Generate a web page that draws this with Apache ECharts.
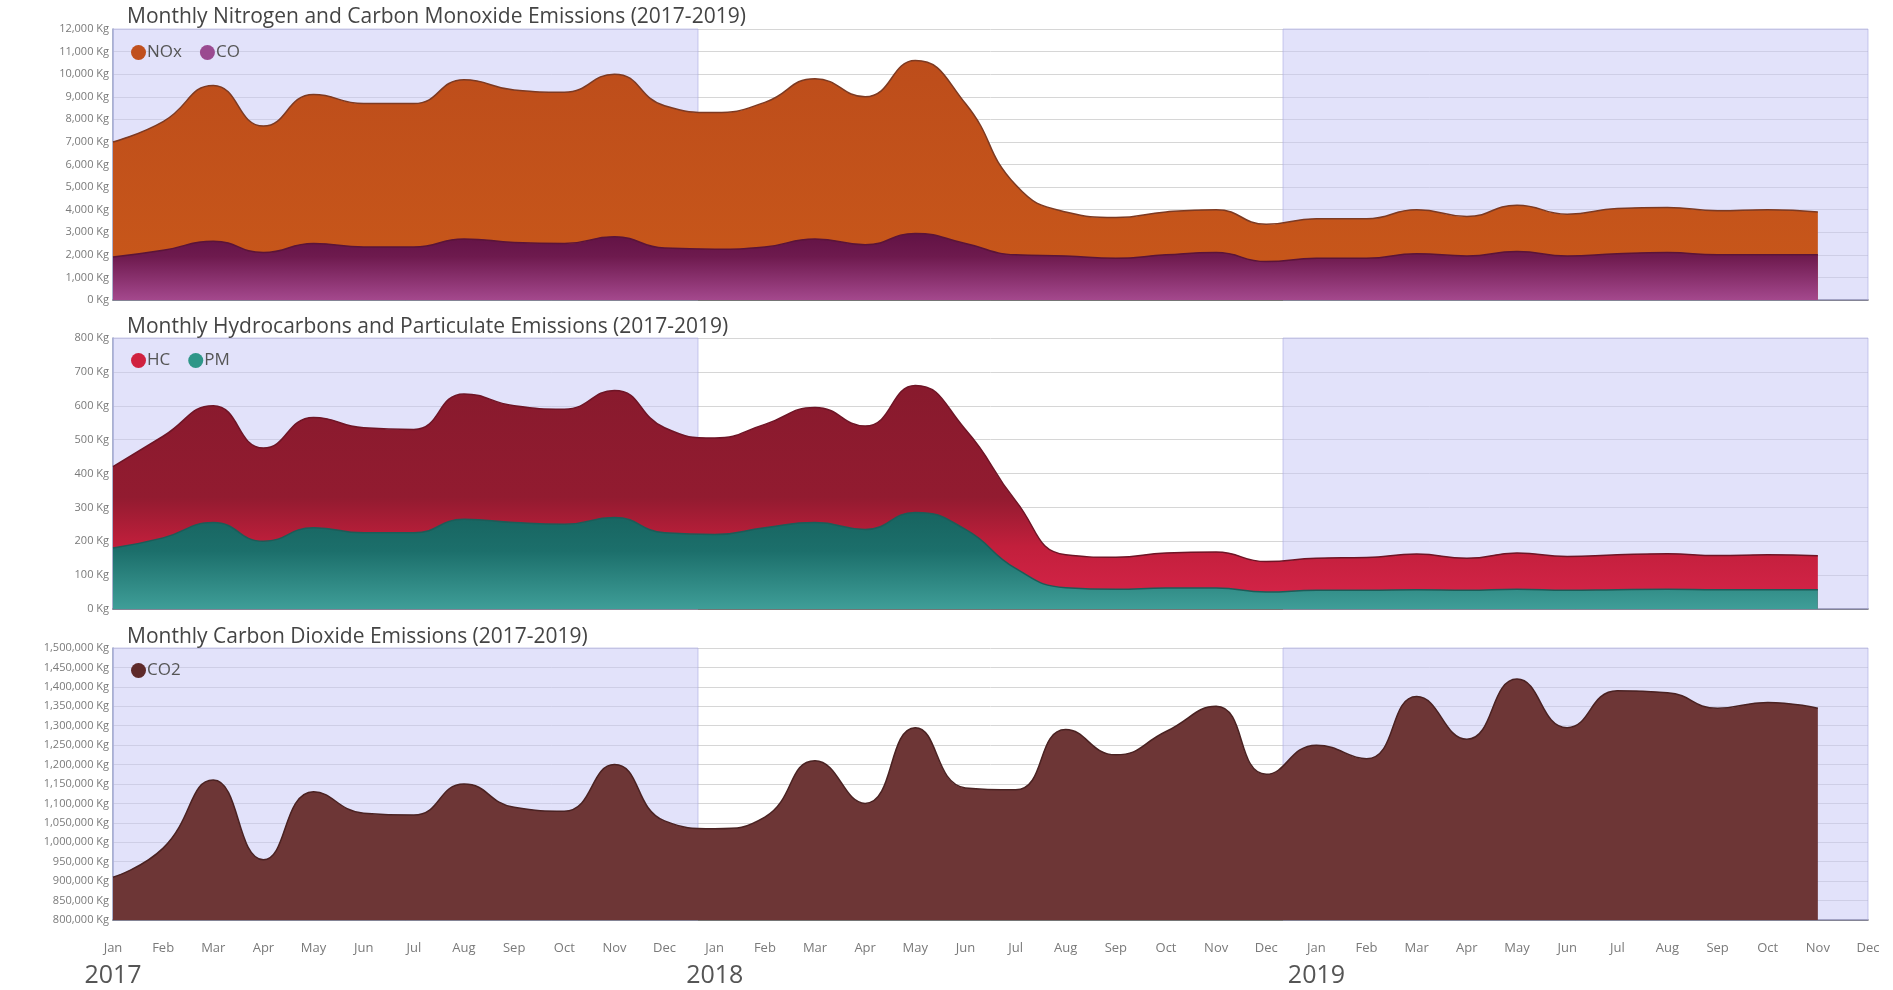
<!DOCTYPE html>
<html>
<head>
<meta charset="utf-8">
<script src="https://cdn.jsdelivr.net/npm/echarts@6/dist/echarts.min.js"></script>
<style>
html,body{margin:0;padding:0;background:#fff;}
#chart{width:1893px;height:990px;}
</style>
</head>
<body>
<div id="chart"></div>
<script>
// ---- data ----
var monthNames = ['Jan','Feb','Mar','Apr','May','Jun','Jul','Aug','Sep','Oct','Nov','Dec'];
var years = [2017, 2018, 2019];
var bandRanges = [[2017, 2018], [2019, 2020]];

var noxValues = [7000, 7900, 9500, 7700, 9100, 8700, 8700, 9750, 9300, 9200, 10000, 8600,
                 8300, 8750, 9800, 9000, 10600, 8700, 5100, 3900, 3650, 3900, 4000, 3350,
                 3600, 3600, 4000, 3700, 4200, 3800, 4050, 4100, 3950, 4000, 3900];
var coValues  = [1900, 2200, 2600, 2100, 2500, 2350, 2350, 2700, 2550, 2500, 2800, 2300,
                 2250, 2350, 2700, 2450, 2950, 2500, 2000, 1950, 1850, 2000, 2100, 1700,
                 1850, 1850, 2050, 1950, 2150, 1950, 2050, 2100, 2000, 2000, 2000];
var hcValues  = [420, 510, 600, 475, 565, 535, 530, 635, 600, 590, 645, 535,
                 505, 545, 595, 540, 660, 530, 320, 160, 153, 165, 168, 140,
                 150, 152, 162, 150, 165, 155, 160, 163, 158, 160, 157];
var pmValues  = [180, 210, 255, 200, 240, 225, 225, 265, 255, 250, 270, 225,
                 220, 240, 255, 235, 285, 235, 120, 63, 58, 62, 62, 50,
                 55, 55, 57, 55, 58, 55, 57, 58, 57, 57, 57];
var co2Values = [910000, 985000, 1160000, 955000, 1130000, 1075000, 1070000, 1150000, 1090000, 1080000, 1200000, 1055000,
                 1035000, 1065000, 1210000, 1100000, 1295000, 1140000, 1135000, 1290000, 1225000, 1285000, 1350000, 1175000,
                 1250000, 1215000, 1375000, 1265000, 1420000, 1295000, 1390000, 1385000, 1345000, 1360000, 1345000];

var titles = ['Monthly Nitrogen and Carbon Monoxide Emissions (2017-2019)',
              'Monthly Hydrocarbons and Particulate Emissions (2017-2019)',
              'Monthly Carbon Dioxide Emissions (2017-2019)'];

// categories built from months and years
var categories = [];
years.forEach(function (y) { monthNames.forEach(function (m) { categories.push(m + '|' + y); }); });

var FONT = '"Open Sans", "Noto Sans", sans-serif';
var grids = [
  {left: 113, right: 25, top: 29, height: 271},
  {left: 113, right: 25, top: 338, height: 271},
  {left: 113, right: 25, top: 648, height: 272}
];

function grad(stops) {
  return new echarts.graphic.LinearGradient(0, 0, 0, 1, stops.map(function (s) {
    return {offset: s[0], color: s[1]};
  }));
}
function kg(v) { return Number(v).toLocaleString('en-US') + ' Kg'; }

var xAxes = [], yAxes = [], series = [];
for (var i = 0; i < 3; i++) {
  xAxes.push({
    type: 'category', gridIndex: i, data: categories, boundaryGap: false,
    axisLine: {show: true, lineStyle: {color: '#555', width: 1.5}},
    axisTick: {show: false},
    splitLine: {show: false},
    axisLabel: i < 2 ? {show: false} : {
      show: true, interval: 0, margin: 18, fontFamily: FONT,
      formatter: function (v) {
        var p = v.split('|');
        return p[0] === 'Jan' ? '{m|' + p[0] + '}\n{y|' + p[1] + '}' : '{m|' + p[0] + '}';
      },
      rich: {
        m: {fontSize: 13, color: '#7a7a7a', lineHeight: 20, fontFamily: FONT},
        y: {fontSize: 25, color: '#555', lineHeight: 36, fontFamily: FONT}
      }
    }
  });
}
// hidden value axes for year bands
for (var j = 0; j < 3; j++) {
  xAxes.push({type: 'value', gridIndex: j, min: years[0], max: years[years.length - 1] + 1, show: false});
}
var yDefs = [{min: 0, max: 12000, interval: 1000}, {min: 0, max: 800, interval: 100}, {min: 800000, max: 1500000, interval: 50000}];
yDefs.forEach(function (d, k) {
  yAxes.push({
    type: 'value', gridIndex: k, min: d.min, max: d.max, interval: d.interval,
    axisLine: {show: true, lineStyle: {color: '#8e9bb3', width: 1.5}},
    axisTick: {show: false},
    axisLabel: {formatter: kg, color: '#7a7a7a', fontSize: 11, margin: 4, fontFamily: FONT},
    splitLine: {show: true, lineStyle: {color: '#d6d6d6', width: 1}}
  });
  series.push({
    type: 'line', name: 'band' + k, xAxisIndex: 3 + k, yAxisIndex: k, data: [], silent: true,
    z: 1,
    markArea: {
      silent: true,
      itemStyle: {color: 'rgba(198,198,245,0.5)', borderColor: 'rgba(170,170,225,0.6)', borderWidth: 1},
      data: bandRanges.map(function (r) { return [{xAxis: r[0]}, {xAxis: r[1]}]; })
    }
  });
});

function area(name, data, gi, legendColor, lineColor, fill) {
  return {
    type: 'line', name: name, data: data, xAxisIndex: gi, yAxisIndex: gi,
    smooth: 0.5, showSymbol: false, symbol: 'circle', z: 3,
    itemStyle: {color: legendColor},
    lineStyle: {color: lineColor, width: 1.5},
    areaStyle: {color: fill, opacity: 1}
  };
}
series.push(area('NOx', noxValues, 0, '#c0501e', '#7d3a22', grad([[0, '#bd4d1b'], [1, '#c9581a']])));
series.push(area('CO', coValues, 0, '#9a4a90', '#5a1438', grad([[0, '#611244'], [0.35, '#6e1a4e'], [1, '#a4488d']])));
series.push(area('HC', hcValues, 1, '#d0213f', '#6e1526', grad([[0, '#881a2d'], [0.5, '#921b30'], [0.72, '#c21f3c'], [1, '#d8254a']])));
series.push(area('PM', pmValues, 1, '#2e9688', '#1c5c58', grad([[0, '#176460'], [0.4, '#1c6f6b'], [1, '#3f9e98']])));
series.push(area('CO2', co2Values, 2, '#5e2a2a', '#4a2222', '#6d3636'));

var legendTops = [39, 347, 657];
var legendData = [['NOx', 'CO'], ['HC', 'PM'], ['CO2']];
var option = {
  animation: false,
  backgroundColor: '#fff',
  textStyle: {fontFamily: FONT},
  title: titles.map(function (t, k) {
    return {text: t, left: 122, top: [2, 312, 622][k],
      textStyle: {fontSize: 21, fontWeight: 'normal', color: '#444', fontFamily: FONT}};
  }),
  legend: legendData.map(function (d, k) {
    return {data: d, left: 126, top: legendTops[k], icon: 'circle', itemWidth: 15, itemHeight: 15,
      itemGap: 18, textStyle: {fontSize: 17, color: '#555', fontFamily: FONT, padding: [0, 0, 0, -4]}};
  }),
  grid: grids,
  xAxis: xAxes,
  yAxis: yAxes,
  series: series
};
var chart = echarts.init(document.getElementById('chart'), null, {renderer: 'canvas'});
chart.setOption(option);
</script>
</body>
</html>
